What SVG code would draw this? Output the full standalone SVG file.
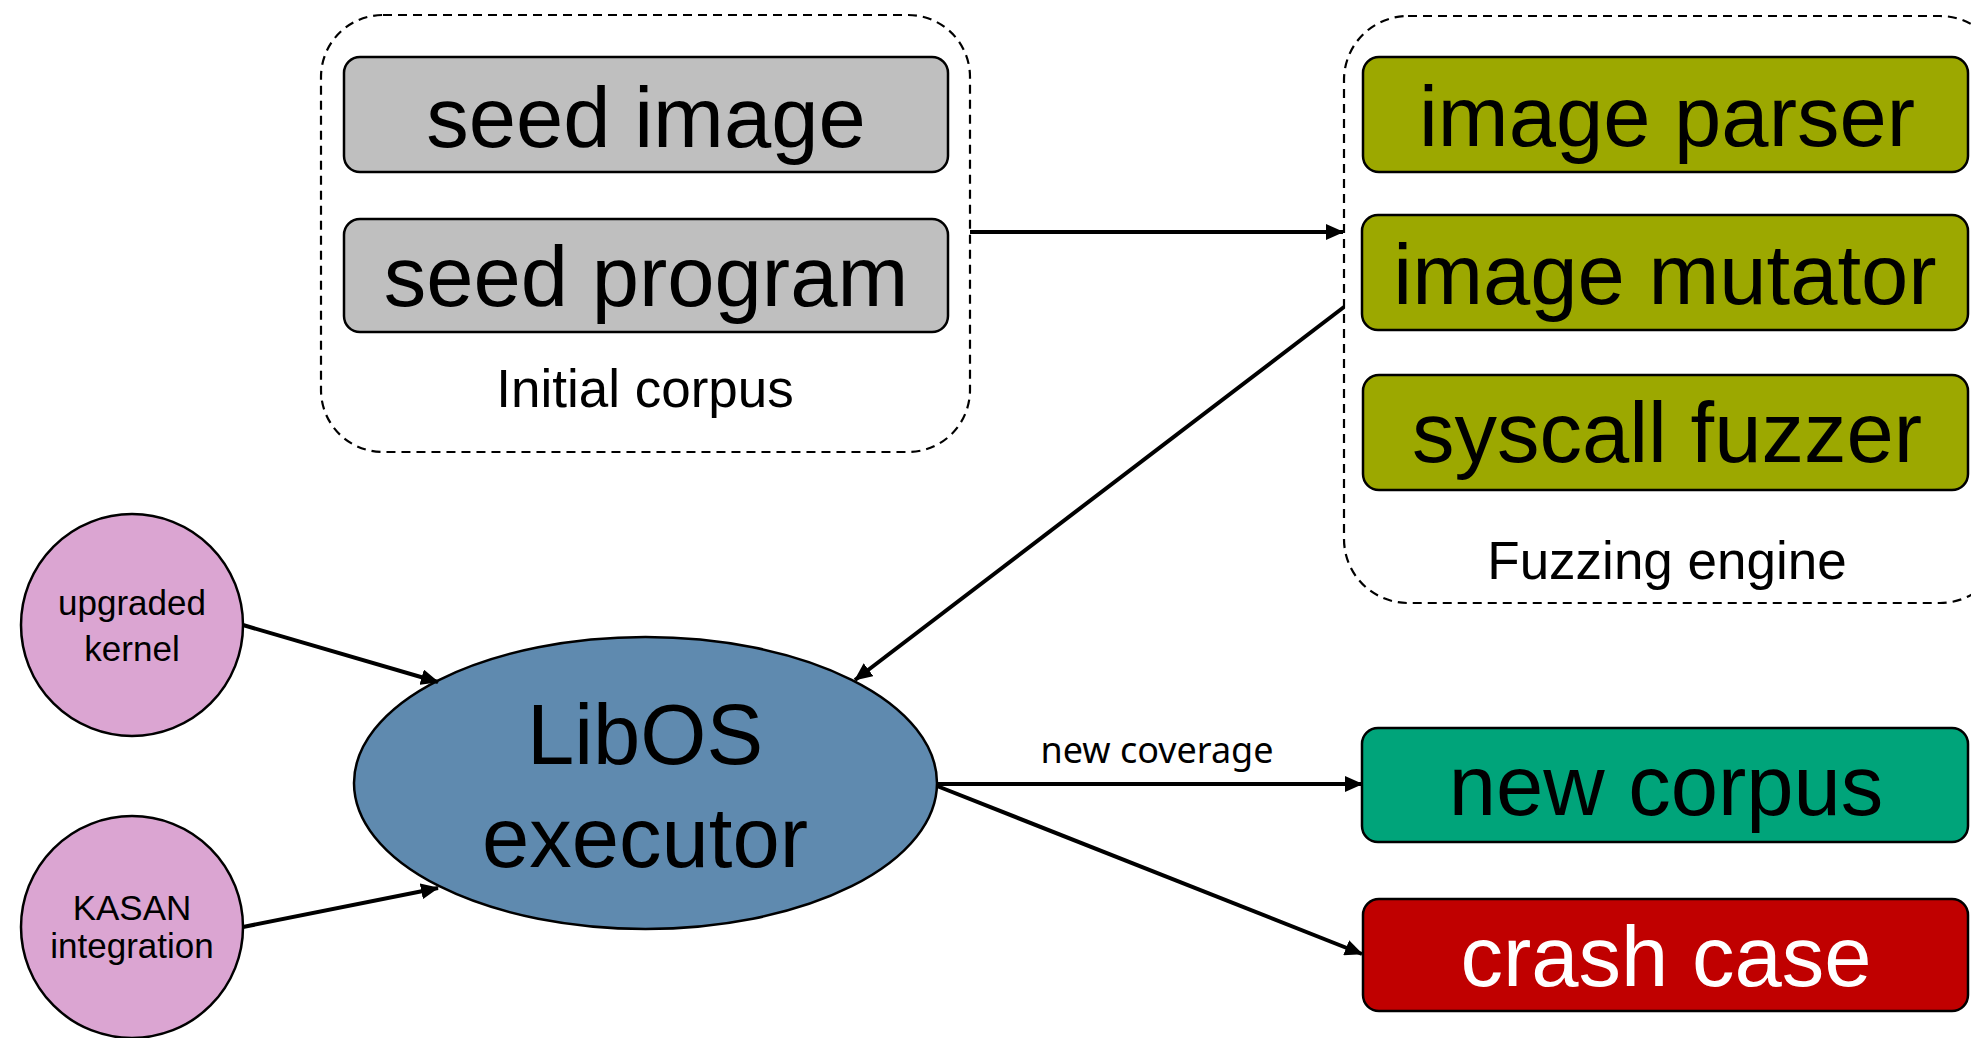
<svg xmlns="http://www.w3.org/2000/svg" width="1971" height="1038" viewBox="0 0 1971 1038">
  <style>
    .group { fill: none; stroke: #000; stroke-width: 2.2; stroke-dasharray: 9 6; }
    .box { stroke: #000; stroke-width: 2.5; }
    .big { font-family: "Liberation Sans", Arial, sans-serif; font-size: 85px; text-anchor: middle; fill: #000; }
    .cap { font-family: "Liberation Sans", Arial, sans-serif; font-size: 53px; text-anchor: middle; fill: #000; }
    .small { font-family: "Liberation Sans", Arial, sans-serif; font-size: 35px; text-anchor: middle; fill: #000; }
    .lbl { font-family: "Noto Sans", "Open Sans", sans-serif; font-size: 36px; text-anchor: middle; fill: #000; }
    .edge { fill: none; stroke: #000; stroke-width: 4; marker-end: url(#arrow); }
  </style>
  <defs>
    <marker id="arrow" markerUnits="userSpaceOnUse" markerWidth="18" markerHeight="16" refX="17" refY="8" orient="auto">
      <path d="M0,0 L18,8 L0,16 z" fill="#000"/>
    </marker>
  </defs>

  <rect width="1971" height="1038" fill="#fff"/>

  <!-- Initial corpus -->
  <g id="initial-corpus">
    <rect class="group" x="321" y="15" width="649" height="437" rx="62"/>
    <text class="cap" x="645" y="407">Initial corpus</text>
  </g>
  <g id="seed-image">
    <rect class="box" x="344" y="57" width="604" height="115" rx="16" fill="#BFBFBF"/>
    <text class="big" x="646" y="147">seed image</text>
  </g>
  <g id="seed-program">
    <rect class="box" x="344" y="219" width="604" height="113" rx="16" fill="#BFBFBF"/>
    <text class="big" x="646" y="306">seed program</text>
  </g>

  <!-- Fuzzing engine -->
  <g id="fuzzing-engine">
    <rect class="group" x="1344" y="16" width="660" height="587" rx="64"/>
    <text class="cap" x="1667" y="579">Fuzzing engine</text>
  </g>
  <g id="image-parser">
    <rect class="box" x="1363" y="57" width="605" height="115" rx="16" fill="#9CA800"/>
    <text class="big" x="1667" y="146">image parser</text>
  </g>
  <g id="image-mutator">
    <rect class="box" x="1362" y="215" width="606" height="115" rx="16" fill="#9CA800"/>
    <text class="big" x="1665" y="304">image mutator</text>
  </g>
  <g id="syscall-fuzzer">
    <rect class="box" x="1363" y="375" width="605" height="115" rx="16" fill="#9CA800"/>
    <text class="big" x="1667" y="462">syscall fuzzer</text>
  </g>

  <!-- Executor and its inputs -->
  <g id="upgraded-kernel">
    <circle class="box" cx="132" cy="625" r="111" fill="#DBA5D2"/>
    <text class="small" x="132" y="615">upgraded</text>
    <text class="small" x="132" y="661">kernel</text>
  </g>
  <g id="kasan-integration">
    <circle class="box" cx="132" cy="927" r="111" fill="#DBA5D2"/>
    <text class="small" x="132" y="920">KASAN</text>
    <text class="small" x="132" y="958">integration</text>
  </g>
  <g id="libos-executor">
    <ellipse class="box" cx="645.5" cy="783" rx="291.5" ry="146" fill="#5F8AAF"/>
    <text class="big" x="645" y="764">LibOS</text>
    <text class="big" x="645" y="867">executor</text>
  </g>

  <!-- Outputs -->
  <g id="new-corpus">
    <rect class="box" x="1362" y="728" width="606" height="114" rx="16" fill="#00A47A"/>
    <text class="big" x="1666" y="815">new corpus</text>
  </g>
  <g id="crash-case">
    <rect class="box" x="1363" y="899" width="605" height="112" rx="16" fill="#C00000"/>
    <text class="big" x="1666" y="986" fill="#fff" style="fill:#fff">crash case</text>
  </g>

  <!-- Connectors -->
  <g id="connectors">
    <line class="edge" x1="970" y1="232" x2="1343" y2="232"/>
    <line class="edge" x1="1344" y1="307" x2="855" y2="680"/>
    <line class="edge" x1="243" y1="625" x2="438" y2="682"/>
    <line class="edge" x1="243" y1="927" x2="438" y2="888"/>
    <line class="edge" x1="937" y1="784" x2="1362" y2="784"/>
    <line class="edge" x1="937" y1="786" x2="1362" y2="954"/>
    <text class="lbl" x="1157" y="763" textLength="233" lengthAdjust="spacingAndGlyphs">new coverage</text>
  </g>
</svg>
